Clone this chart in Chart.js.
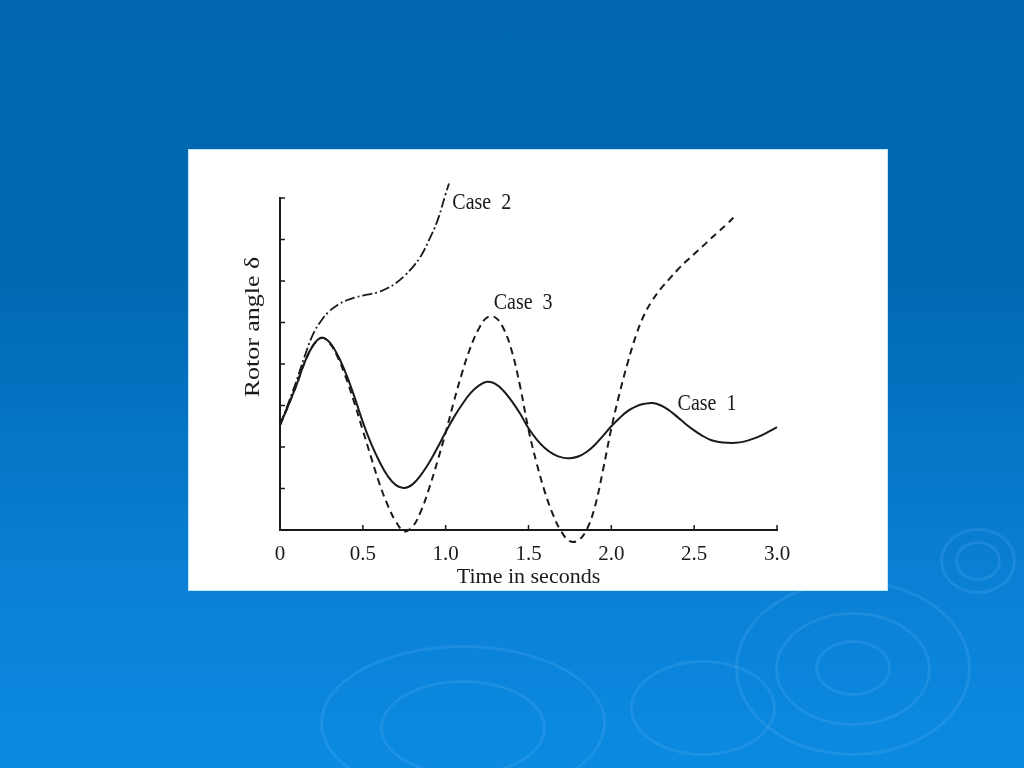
<!DOCTYPE html>
<html>
<head>
<meta charset="utf-8">
<script src="https://cdn.jsdelivr.net/npm/chart.js"></script>
<style>
html, body { margin: 0; padding: 0; }
body {
    width: 1024px; height: 768px; overflow: hidden; position: relative;
    background: linear-gradient(to bottom, #0067b0 0%, #0068b2 35%, #0a80d4 75%, #0b8ae2 100%);
}
.ring { position: absolute; border-radius: 50%; border: 3px solid rgba(110, 190, 250, 0.18); }
#box {
    position: absolute; left: 189px; top: 150px; width: 698px; height: 440px;
    background: #fff; box-shadow: 0 0 0 1px #bfe4fa;
}
</style>
</head>
<body>
<div class="ring" style="left:940px;top:528px;width:70px;height:60px"></div>
<div class="ring" style="left:955px;top:541px;width:40px;height:34px"></div>
<div class="ring" style="left:735px;top:580px;width:230px;height:170px"></div>
<div class="ring" style="left:775px;top:612px;width:150px;height:108px"></div>
<div class="ring" style="left:815px;top:640px;width:70px;height:50px"></div>
<div class="ring" style="left:320px;top:645px;width:280px;height:150px"></div>
<div class="ring" style="left:380px;top:680px;width:160px;height:90px"></div>
<div class="ring" style="left:630px;top:660px;width:140px;height:90px"></div>
<div id="box"><canvas id="rotor-chart" width="698" height="440"></canvas></div>
<script>
// time axis (s) and rotor angle readings for each case
const case1T = [0, 0.05, 0.1, 0.15, 0.2, 0.25, 0.3, 0.35, 0.4, 0.45, 0.5, 0.55, 0.6, 0.65, 0.7, 0.75, 0.8, 0.85, 0.9, 0.95,
    1.0, 1.05, 1.1, 1.15, 1.2, 1.25, 1.3, 1.35, 1.4, 1.45, 1.5, 1.55, 1.6, 1.65, 1.7, 1.75, 1.8, 1.85, 1.9, 1.95,
    2.0, 2.05, 2.1, 2.15, 2.2, 2.25, 2.3, 2.35, 2.4, 2.45, 2.5, 2.55, 2.6, 2.65, 2.7, 2.75, 2.8, 2.85, 2.9, 2.95, 3.0];
const case1Y = [2.53, 3.0, 3.5, 4.05, 4.45, 4.63, 4.52, 4.2, 3.75, 3.2, 2.6, 2.08, 1.65, 1.3, 1.08, 1.01, 1.1, 1.32, 1.62, 1.98,
    2.36, 2.72, 3.03, 3.3, 3.48, 3.57, 3.52, 3.35, 3.1, 2.8, 2.45, 2.18, 1.97, 1.83, 1.75, 1.73, 1.77, 1.88, 2.05, 2.27,
    2.5, 2.7, 2.87, 2.98, 3.04, 3.06, 3.0, 2.88, 2.72, 2.55, 2.4, 2.27, 2.17, 2.12, 2.1, 2.1, 2.13, 2.19, 2.27, 2.37, 2.48];

const case2T = [0, 0.05, 0.1, 0.15, 0.2, 0.25, 0.3, 0.35, 0.4, 0.45, 0.5, 0.55, 0.6, 0.65, 0.7, 0.75, 0.8, 0.85, 0.9, 0.95, 1.0, 1.02];
const case2Y = [2.53, 3.05, 3.6, 4.2, 4.72, 5.05, 5.28, 5.43, 5.53, 5.6, 5.65, 5.69, 5.74, 5.83, 5.95, 6.12, 6.33, 6.6, 6.99, 7.45, 8.1, 8.35];

const case3T = [0, 0.05, 0.1, 0.15, 0.2, 0.25, 0.3, 0.35, 0.4, 0.45, 0.5, 0.55, 0.6, 0.65, 0.7, 0.75, 0.8, 0.85, 0.9, 0.95,
    1.0, 1.05, 1.1, 1.15, 1.2, 1.25, 1.3, 1.35, 1.4, 1.45, 1.5, 1.55, 1.6, 1.65, 1.7, 1.75, 1.8, 1.85, 1.9, 1.95,
    2.0, 2.05, 2.1, 2.15, 2.2, 2.25, 2.3, 2.35, 2.4, 2.45, 2.5, 2.55, 2.6, 2.65, 2.7, 2.75];
const case3Y = [2.53, 3.0, 3.5, 4.05, 4.45, 4.63, 4.5, 4.15, 3.65, 3.05, 2.4, 1.75, 1.12, 0.6, 0.2, -0.03, 0.08, 0.45, 1.0, 1.65,
    2.35, 3.1, 3.8, 4.4, 4.85, 5.12, 5.12, 4.85, 4.3, 3.45, 2.42, 1.6, 0.9, 0.35, -0.05, -0.27, -0.25, 0.0, 0.55, 1.45,
    2.45, 3.3, 4.05, 4.7, 5.2, 5.55, 5.82, 6.05, 6.27, 6.47, 6.65, 6.83, 7.02, 7.2, 7.38, 7.58];

const xTickLabels = ['0', '0.5', '1.0', '1.5', '2.0', '2.5', '3.0'];
const xTickMarks = [0.5, 1.0, 1.5, 2.0, 2.5, 3.0];
const yTickMarks = [1, 2, 3, 4, 5, 6, 7, 8];

const caseNames = ['Case  1', 'Case  2', 'Case  3'];
const caseLabelX = [2.40, 1.04, 1.29];
const caseLabelY = [3.04, 7.88, 5.47];

const xTitle = 'Time in seconds';
const yTitle = 'Rotor angle δ';

const FONT = '"Liberation Serif", "Times New Roman", serif';
const INK = '#1a1a1a';

function pts(ts, ys) {
    return ts.map((t, i) => ({ x: t, y: ys[i] }));
}

const annotate = {
    id: 'annotate',
    afterDatasetsDraw(chart) {
        const { ctx, scales: { x, y } } = chart;
        ctx.save();
        ctx.strokeStyle = INK;
        ctx.lineWidth = 1.5;
        // small ticks pointing into the plot
        yTickMarks.forEach(v => {
            const py = y.getPixelForValue(v);
            ctx.beginPath(); ctx.moveTo(x.left, py); ctx.lineTo(x.left + 5, py); ctx.stroke();
        });
        xTickMarks.forEach(v => {
            const px = x.getPixelForValue(v);
            ctx.beginPath(); ctx.moveTo(px, y.bottom); ctx.lineTo(px, y.bottom - 5); ctx.stroke();
        });
        ctx.fillStyle = INK;
        ctx.textBaseline = 'middle';
        ctx.textAlign = 'left';
        caseNames.forEach((name, i) => {
            const px = x.getPixelForValue(caseLabelX[i]);
            const py = y.getPixelForValue(caseLabelY[i]);
            ctx.save();
            ctx.translate(px, py);
            ctx.scale(1, 1.15);
            ctx.font = '20px ' + FONT;
            ctx.fillText(name, 0, 0);
            ctx.restore();
        });
        // y axis title, stretched along its length like the scanned original
        ctx.translate(x.left - 27, y.top + 129);
        ctx.rotate(-Math.PI / 2);
        ctx.scale(1.18, 1);
        ctx.font = '22px ' + FONT;
        ctx.textAlign = 'center';
        ctx.fillText(yTitle, 0, 0);
        ctx.restore();
    }
};

const ctx = document.getElementById('rotor-chart').getContext('2d');
const rotorChart = new Chart(ctx, {
    type: 'line',
    data: {
        datasets: [{
            label: 'Case 1',
            data: pts(case1T, case1Y),
            borderColor: INK,
            borderWidth: 2,
            pointRadius: 0,
            tension: 0.4,
            clip: false
        }, {
            label: 'Case 2',
            data: pts(case2T, case2Y),
            borderColor: INK,
            borderWidth: 1.8,
            borderDash: [10, 3, 2, 3],
            pointRadius: 0,
            tension: 0.4,
            clip: false
        }, {
            label: 'Case 3',
            data: pts(case3T, case3Y),
            borderColor: INK,
            borderWidth: 2,
            borderDash: [7, 5],
            pointRadius: 0,
            tension: 0.4,
            clip: false
        }]
    },
    options: {
        responsive: false,
        animation: false,
        layout: { padding: { left: 53, right: 110, top: 48, bottom: 0 } },
        plugins: { legend: { display: false }, tooltip: { enabled: false } },
        scales: {
            x: {
                type: 'linear',
                min: 0,
                max: 3,
                afterFit(s) { s.height = 60; },
                border: { display: true, color: INK, width: 2 },
                grid: { drawOnChartArea: false, drawTicks: false },
                ticks: {
                    stepSize: 0.5,
                    padding: 12,
                    color: INK,
                    font: { family: FONT, size: 21 },
                    maxRotation: 0,
                    callback: (v, i) => xTickLabels[i]
                },
                title: {
                    display: true,
                    text: xTitle,
                    color: INK,
                    font: { family: FONT, size: 22 },
                    padding: { top: 0, bottom: 0 }
                }
            },
            y: {
                min: 0,
                max: 8,
                afterFit(s) { s.width = 38; },
                border: { display: true, color: INK, width: 2 },
                grid: { drawOnChartArea: false, drawTicks: false },
                ticks: { display: false, stepSize: 1 }
            }
        }
    },
    plugins: [annotate]
});
</script>
</body>
</html>
